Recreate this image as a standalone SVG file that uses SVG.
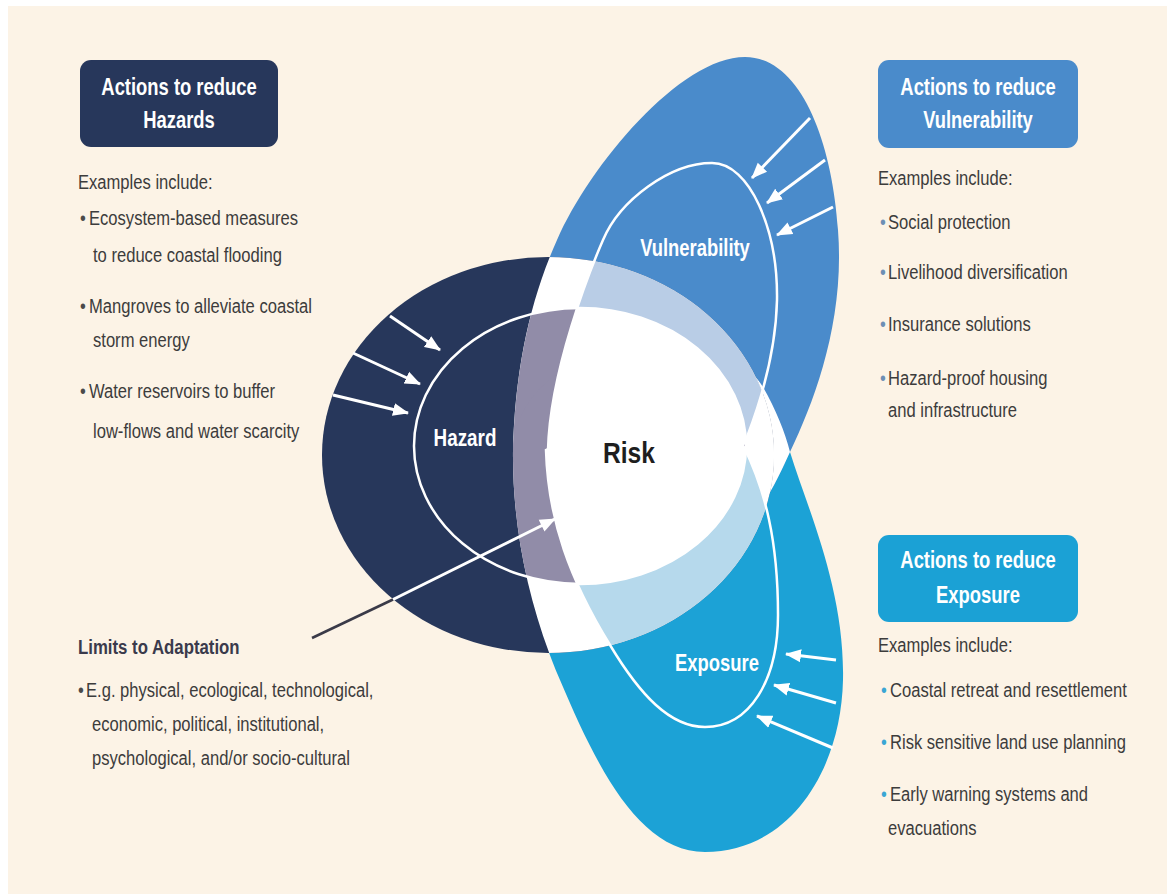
<svg xmlns="http://www.w3.org/2000/svg" xmlns:xlink="http://www.w3.org/1999/xlink" width="1167" height="894" viewBox="0 0 1167 894">
<style>
text{font-family:"Liberation Sans",Arial,sans-serif}
.h{font-size:23px;font-weight:bold;fill:#ffffff;text-anchor:middle}
.b{font-size:21px;fill:#3c3c3c}
.lbl{font-size:23px;font-weight:bold;fill:#ffffff;text-anchor:middle}
.bd{fill:#4a4a4a;font-size:21px}
.bv{fill:#6d8fb5;font-size:21px}
.be{fill:#3aa6d4;font-size:21px}
.arr{stroke:#ffffff;stroke-width:3;fill:none;marker-end:url(#ah)}
.ol{fill:none;stroke:#ffffff;stroke-width:2.5}
</style>
<defs>
<marker id="ah" markerUnits="userSpaceOnUse" markerWidth="16" markerHeight="16" viewBox="0 0 16 16" refX="15" refY="8" orient="auto">
<path d="M0,1.5 L16,8 L0,14.5 Z" fill="#ffffff"/>
</marker>
<path id="pVout" d="M745,57 C800,57 832,140 838,230 C845,320 815,400 790,452 C775,485 750,540 700,565 C640,595 525,540 513,450 C515,370 530,300 557,240 C590,165 680,57 745,57 Z"/>
<path id="pEout" d="M513,450 C515,380 600,335 680,345 C720,350 750,365 763,387 C776,410 785,432 790,452 C808,510 845,590 843,680 C841,770 790,852 705,852 C640,852 598,770 560,680 C530,610 512,530 513,450 Z"/>
<path id="pVin" d="M712,163 C750,163 778,230 777,300 C776,345 765,390 747,437 C735,465 710,500 660,510 C600,522 548,500 548,450 C550,370 590,270 603,240 C620,200 670,163 712,163 Z"/>
<path id="pEin" d="M546,450 C548,520 570,580 610,645 C640,695 670,727 705,727 C750,727 778,680 778,615 C778,540 765,490 744,447 C720,420 640,400 546,450 Z"/>
<clipPath id="cHout"><ellipse cx="548" cy="455" rx="226" ry="198"/></clipPath>
<clipPath id="cHin"><ellipse cx="580" cy="446" rx="166" ry="138"/></clipPath>
<clipPath id="cEout"><use xlink:href="#pEout"/></clipPath>
</defs>
<rect x="0" y="0" width="1167" height="894" fill="#ffffff"/>
<rect x="8" y="6" width="1159" height="888" fill="#fcf3e6"/>

<g id="exposure-shape">
<use xlink:href="#pEout" fill="#1ca2d6"/>
</g>
<g id="vulnerability-shape">
<use xlink:href="#pVout" fill="#4a8bcb"/>
<use xlink:href="#pVout" fill="#ffffff" clip-path="url(#cEout)"/>
</g>
<g id="hazard-shape">
<ellipse cx="548" cy="455" rx="226" ry="198" fill="#27375b"/>
<g clip-path="url(#cHout)">
<use xlink:href="#pVout" fill="#ffffff"/>
<use xlink:href="#pEout" fill="#ffffff"/>
</g>
<g clip-path="url(#cHin)">
<use xlink:href="#pVout" fill="#918ca8"/>
<use xlink:href="#pEout" fill="#918ca8"/>
</g>
</g>
<g id="overlap-bands" clip-path="url(#cHout)">
<use xlink:href="#pVin" fill="#b9cde6"/>
<use xlink:href="#pEin" fill="#b6d9ec"/>
</g>
<g id="risk-area" clip-path="url(#cHin)">
<use xlink:href="#pVin" fill="#ffffff"/>
<use xlink:href="#pEin" fill="#ffffff"/>
</g>
<g id="inner-outlines">
<ellipse class="ol" cx="580" cy="446" rx="166" ry="138"/>
<use class="ol" xlink:href="#pVin"/>
<use class="ol" xlink:href="#pEin"/>
</g>

<g id="connectors">
<line class="arr" x1="390" y1="316" x2="440" y2="350"/>
<line class="arr" x1="353" y1="353" x2="420" y2="384"/>
<line class="arr" x1="333" y1="395" x2="408" y2="413"/>
<line class="arr" x1="810" y1="118" x2="752" y2="178"/>
<line class="arr" x1="825" y1="160" x2="767" y2="203"/>
<line class="arr" x1="833" y1="207" x2="777" y2="235"/>
<line class="arr" x1="836" y1="660" x2="786" y2="654"/>
<line class="arr" x1="836" y1="703" x2="774" y2="685"/>
<line class="arr" x1="833" y1="748" x2="757" y2="716"/>
<line x1="312" y1="638" x2="394" y2="599" stroke="#3a3a48" stroke-width="2.5"/>
<line class="arr" x1="393" y1="599.5" x2="555" y2="519"/>
</g>

<g id="node-hazard"><text class="lbl" transform="translate(465,446) scale(0.82,1)">Hazard</text></g>
<g id="node-vulnerability"><text class="lbl" transform="translate(695,256) scale(0.8,1)">Vulnerability</text></g>
<g id="node-exposure"><text class="lbl" transform="translate(717,671) scale(0.8,1)">Exposure</text></g>
<g id="node-risk"><text transform="translate(629,463) scale(0.82,1)" style="font-size:30px;font-weight:bold;fill:#1e1e1e;text-anchor:middle">Risk</text></g>

<g id="box-hazards">
<rect x="80" y="60" width="198" height="87" rx="11" fill="#27375b"/>
<text class="h" transform="translate(179,95) scale(0.8,1)">Actions to reduce</text>
<text class="h" transform="translate(179,128) scale(0.8,1)">Hazards</text>
<text class="b" transform="translate(78,189) scale(0.79,1)">Examples include:</text>
<text class="bd" transform="translate(80,225) scale(0.79,1)">•</text>
<text class="b" transform="translate(89,225) scale(0.79,1)">Ecosystem-based measures</text>
<text class="b" transform="translate(93,262) scale(0.79,1)">to reduce coastal flooding</text>
<text class="bd" transform="translate(80,313) scale(0.79,1)">•</text>
<text class="b" transform="translate(89,313) scale(0.79,1)">Mangroves to alleviate coastal</text>
<text class="b" transform="translate(93,347) scale(0.79,1)">storm energy</text>
<text class="bd" transform="translate(80,398) scale(0.79,1)">•</text>
<text class="b" transform="translate(89,398) scale(0.79,1)">Water reservoirs to buffer</text>
<text class="b" transform="translate(93,438) scale(0.79,1)">low-flows and water scarcity</text>
</g>

<g id="box-vulnerability">
<rect x="878" y="60" width="200" height="88" rx="11" fill="#4a8bcb"/>
<text class="h" transform="translate(978,95) scale(0.8,1)">Actions to reduce</text>
<text class="h" transform="translate(978,128) scale(0.8,1)">Vulnerability</text>
<text class="b" transform="translate(878,185) scale(0.79,1)">Examples include:</text>
<text class="bv" transform="translate(880,229) scale(0.79,1)">•</text>
<text class="b" transform="translate(888,229) scale(0.79,1)">Social protection</text>
<text class="bv" transform="translate(880,279) scale(0.79,1)">•</text>
<text class="b" transform="translate(888,279) scale(0.79,1)">Livelihood diversification</text>
<text class="bv" transform="translate(880,331) scale(0.79,1)">•</text>
<text class="b" transform="translate(888,331) scale(0.79,1)">Insurance solutions</text>
<text class="bv" transform="translate(880,385) scale(0.79,1)">•</text>
<text class="b" transform="translate(888,385) scale(0.79,1)">Hazard-proof housing</text>
<text class="b" transform="translate(888,417) scale(0.79,1)">and infrastructure</text>
</g>

<g id="box-exposure">
<rect x="878" y="535" width="200" height="87" rx="11" fill="#1ba1d5"/>
<text class="h" transform="translate(978,568) scale(0.8,1)">Actions to reduce</text>
<text class="h" transform="translate(978,603) scale(0.8,1)">Exposure</text>
<text class="b" transform="translate(878,652) scale(0.79,1)">Examples include:</text>
<text class="be" transform="translate(881,697) scale(0.79,1)">•</text>
<text class="b" transform="translate(890,697) scale(0.79,1)">Coastal retreat and resettlement</text>
<text class="be" transform="translate(881,749) scale(0.79,1)">•</text>
<text class="b" transform="translate(890,749) scale(0.79,1)">Risk sensitive land use planning</text>
<text class="be" transform="translate(881,801) scale(0.79,1)">•</text>
<text class="b" transform="translate(890,801) scale(0.79,1)">Early warning systems and</text>
<text class="b" transform="translate(888,835) scale(0.79,1)">evacuations</text>
</g>

<g id="limits">
<text transform="translate(78,654) scale(0.8,1)" style="font-size:21px;font-weight:bold;fill:#3a3a4c">Limits to Adaptation</text>
<text class="bd" transform="translate(78,697) scale(0.79,1)">•</text>
<text class="b" transform="translate(86,697) scale(0.79,1)">E.g. physical, ecological, technological,</text>
<text class="b" transform="translate(92,731) scale(0.79,1)">economic, political, institutional,</text>
<text class="b" transform="translate(92,765) scale(0.79,1)">psychological, and/or socio-cultural</text>
</g>
</svg>
